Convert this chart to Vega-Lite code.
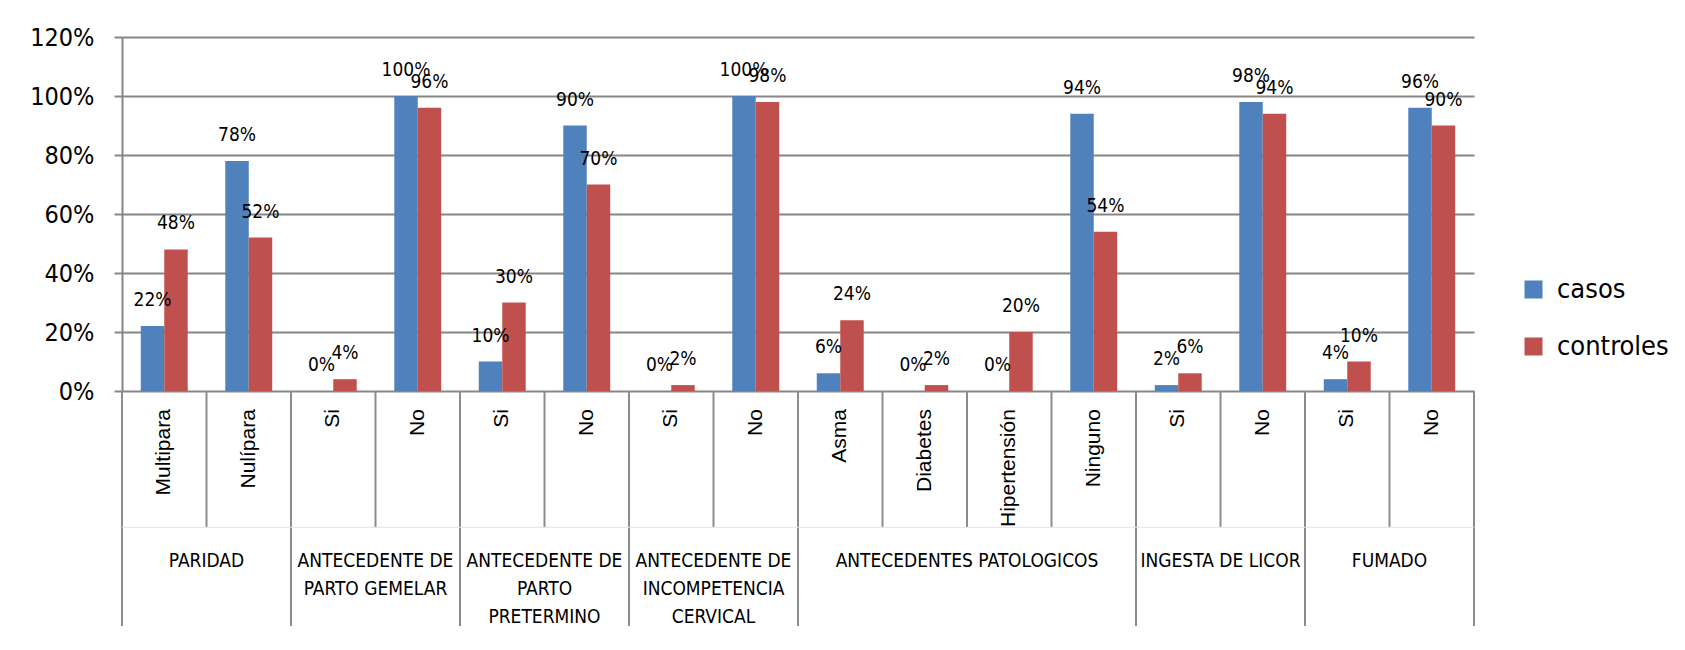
{
  "$schema": "https://vega.github.io/schema/vega-lite/v6.json",
  "padding": {"left": 29, "top": 25, "right": 0, "bottom": 0},
  "background": "white",
  "bounds": "flush",
  "spacing": 0,
  "datasets": {
    "valores": [
      {"cat": "PARIDAD-Multipara", "serie": "casos", "valor": 0.22},
      {"cat": "PARIDAD-Multipara", "serie": "controles", "valor": 0.48},
      {"cat": "PARIDAD-Nulipara", "serie": "casos", "valor": 0.78},
      {"cat": "PARIDAD-Nulipara", "serie": "controles", "valor": 0.52},
      {"cat": "GEMELAR-Si", "serie": "casos", "valor": 0.0},
      {"cat": "GEMELAR-Si", "serie": "controles", "valor": 0.04},
      {"cat": "GEMELAR-No", "serie": "casos", "valor": 1.0},
      {"cat": "GEMELAR-No", "serie": "controles", "valor": 0.96},
      {"cat": "PRETERMINO-Si", "serie": "casos", "valor": 0.10},
      {"cat": "PRETERMINO-Si", "serie": "controles", "valor": 0.30},
      {"cat": "PRETERMINO-No", "serie": "casos", "valor": 0.90},
      {"cat": "PRETERMINO-No", "serie": "controles", "valor": 0.70},
      {"cat": "INCOMPETENCIA-Si", "serie": "casos", "valor": 0.0},
      {"cat": "INCOMPETENCIA-Si", "serie": "controles", "valor": 0.02},
      {"cat": "INCOMPETENCIA-No", "serie": "casos", "valor": 1.0},
      {"cat": "INCOMPETENCIA-No", "serie": "controles", "valor": 0.98},
      {"cat": "PATOLOGICOS-Asma", "serie": "casos", "valor": 0.06},
      {"cat": "PATOLOGICOS-Asma", "serie": "controles", "valor": 0.24},
      {"cat": "PATOLOGICOS-Diabetes", "serie": "casos", "valor": 0.0},
      {"cat": "PATOLOGICOS-Diabetes", "serie": "controles", "valor": 0.02},
      {"cat": "PATOLOGICOS-Hipertension", "serie": "casos", "valor": 0.0},
      {"cat": "PATOLOGICOS-Hipertension", "serie": "controles", "valor": 0.20},
      {"cat": "PATOLOGICOS-Ninguno", "serie": "casos", "valor": 0.94},
      {"cat": "PATOLOGICOS-Ninguno", "serie": "controles", "valor": 0.54},
      {"cat": "LICOR-Si", "serie": "casos", "valor": 0.02},
      {"cat": "LICOR-Si", "serie": "controles", "valor": 0.06},
      {"cat": "LICOR-No", "serie": "casos", "valor": 0.98},
      {"cat": "LICOR-No", "serie": "controles", "valor": 0.94},
      {"cat": "FUMADO-Si", "serie": "casos", "valor": 0.04},
      {"cat": "FUMADO-Si", "serie": "controles", "valor": 0.10},
      {"cat": "FUMADO-No", "serie": "casos", "valor": 0.96},
      {"cat": "FUMADO-No", "serie": "controles", "valor": 0.90}
    ],
    "subcategorias": [
      {"idx": 0, "sub": "Multipara"},
      {"idx": 1, "sub": "Nulípara"},
      {"idx": 2, "sub": "Si"},
      {"idx": 3, "sub": "No"},
      {"idx": 4, "sub": "Si"},
      {"idx": 5, "sub": "No"},
      {"idx": 6, "sub": "Si"},
      {"idx": 7, "sub": "No"},
      {"idx": 8, "sub": "Asma"},
      {"idx": 9, "sub": "Diabetes"},
      {"idx": 10, "sub": "Hipertensión"},
      {"idx": 11, "sub": "Ninguno"},
      {"idx": 12, "sub": "Si"},
      {"idx": 13, "sub": "No"},
      {"idx": 14, "sub": "Si"},
      {"idx": 15, "sub": "No"}
    ],
    "grupos": [
      {"grupo": "PARIDAD", "inicio": 0, "fin": 2},
      {"grupo": "ANTECEDENTE DE\nPARTO GEMELAR", "inicio": 2, "fin": 4},
      {"grupo": "ANTECEDENTE DE\nPARTO\nPRETERMINO", "inicio": 4, "fin": 6},
      {"grupo": "ANTECEDENTE DE\nINCOMPETENCIA\nCERVICAL", "inicio": 6, "fin": 8},
      {"grupo": "ANTECEDENTES PATOLOGICOS", "inicio": 8, "fin": 12},
      {"grupo": "INGESTA DE LICOR", "inicio": 12, "fin": 14},
      {"grupo": "FUMADO", "inicio": 14, "fin": 16}
    ],
    "bordes": [
      {"pos": 0, "tipo": "grupo"},
      {"pos": 1, "tipo": "sub"},
      {"pos": 2, "tipo": "grupo"},
      {"pos": 3, "tipo": "sub"},
      {"pos": 4, "tipo": "grupo"},
      {"pos": 5, "tipo": "sub"},
      {"pos": 6, "tipo": "grupo"},
      {"pos": 7, "tipo": "sub"},
      {"pos": 8, "tipo": "grupo"},
      {"pos": 9, "tipo": "sub"},
      {"pos": 10, "tipo": "sub"},
      {"pos": 11, "tipo": "sub"},
      {"pos": 12, "tipo": "grupo"},
      {"pos": 13, "tipo": "sub"},
      {"pos": 14, "tipo": "grupo"},
      {"pos": 15, "tipo": "sub"},
      {"pos": 16, "tipo": "grupo"}
    ]
  },
  "vconcat": [
    {
      "width": 1352,
      "height": 354,
      "data": {"name": "valores"},
      "encoding": {
        "x": {"field": "cat", "type": "nominal", "sort": null, "scale": {"paddingInner": 0, "paddingOuter": 0}, "axis": null},
        "xOffset": {"field": "serie", "type": "nominal", "sort": ["casos", "controles"], "scale": {"paddingInner": 0, "paddingOuter": 0.8}},
        "y": {
          "field": "valor", "type": "quantitative",
          "scale": {"domain": [0, 1.2], "nice": false},
          "axis": {
            "title": null, "values": [0, 0.2, 0.4, 0.6, 0.8, 1.0, 1.2], "format": ".0%",
            "labelFont": "DejaVu Sans Condensed, Liberation Sans, sans-serif",
            "labelFontSize": 25, "labelColor": "#000000", "labelPadding": 20,
            "tickSize": 8, "tickColor": "#868686", "tickWidth": 2,
            "domainColor": "#868686", "domainWidth": 2,
            "grid": true, "gridColor": "#868686", "gridWidth": 2
          }
        }
      },
      "layer": [
        {
          "mark": {"type": "bar"},
          "encoding": {
            "color": {
              "field": "serie", "type": "nominal",
              "scale": {"domain": ["casos", "controles"], "range": ["#4F81BD", "#C0504D"]},
              "legend": {"title": null}
            }
          }
        },
        {
          "mark": {"type": "text", "baseline": "alphabetic", "align": "center", "dy": -20, "fontSize": 19, "font": "DejaVu Sans Condensed, Liberation Sans, sans-serif", "color": "#000000"},
          "encoding": {"text": {"field": "valor", "type": "quantitative", "format": ".0%"}}
        }
      ]
    },
    {
      "width": 1352,
      "height": 235,
      "layer": [
        {
          "data": {"name": "bordes"},
          "transform": [{"filter": "datum.tipo == 'sub'"}],
          "mark": {"type": "rule", "color": "#8c8c8c", "strokeWidth": 2},
          "encoding": {
            "x": {"field": "pos", "type": "quantitative", "scale": {"domain": [0, 16], "nice": false, "zero": false}, "axis": null},
            "y": {"datum": 0, "type": "quantitative", "scale": {"domain": [0, 1], "reverse": true, "nice": false}, "axis": null},
            "y2": {"datum": 0.58}
          }
        },
        {
          "data": {"name": "bordes"},
          "transform": [{"filter": "datum.tipo == 'grupo'"}],
          "mark": {"type": "rule", "color": "#8c8c8c", "strokeWidth": 2},
          "encoding": {
            "x": {"field": "pos", "type": "quantitative"},
            "y": {"datum": 0, "type": "quantitative"},
            "y2": {"datum": 1}
          }
        },
        {
          "data": {"name": "grupos"},
          "mark": {"type": "rule", "color": "#e3e3e3", "strokeWidth": 1},
          "encoding": {
            "x": {"field": "inicio", "type": "quantitative"},
            "x2": {"field": "fin"},
            "y": {"datum": 0.58, "type": "quantitative"}
          }
        },
        {
          "data": {"name": "subcategorias"},
          "transform": [{"calculate": "datum.idx + 0.5", "as": "centro"}],
          "mark": {"type": "text", "angle": 270, "align": "right", "baseline": "middle", "fontSize": 21, "font": "Liberation Sans, Arial, sans-serif", "color": "#000000"},
          "encoding": {
            "x": {"field": "centro", "type": "quantitative"},
            "y": {"datum": 0.077, "type": "quantitative"},
            "text": {"field": "sub"}
          }
        },
        {
          "data": {"name": "grupos"},
          "transform": [{"calculate": "(datum.inicio + datum.fin) / 2", "as": "centro"}],
          "mark": {"type": "text", "align": "center", "baseline": "alphabetic", "lineBreak": "\n", "lineHeight": 28, "fontSize": 19, "font": "DejaVu Sans Condensed, Liberation Sans, sans-serif", "color": "#000000"},
          "encoding": {
            "x": {"field": "centro", "type": "quantitative"},
            "y": {"datum": 0.749, "type": "quantitative"},
            "text": {"field": "grupo"}
          }
        }
      ]
    }
  ],
  "config": {
    "view": {"stroke": null},
    "legend": {
      "orient": "none", "legendX": 1398, "legendY": 239,
      "symbolType": "square", "symbolSize": 324, "symbolStrokeWidth": 0, "symbolOpacity": 1,
      "labelFont": "DejaVu Sans Condensed, Liberation Sans, sans-serif",
      "labelFontSize": 27, "labelColor": "#000000", "labelOffset": 10,
      "rowPadding": 29, "padding": 0, "labelLimit": 300
    }
  }
}
